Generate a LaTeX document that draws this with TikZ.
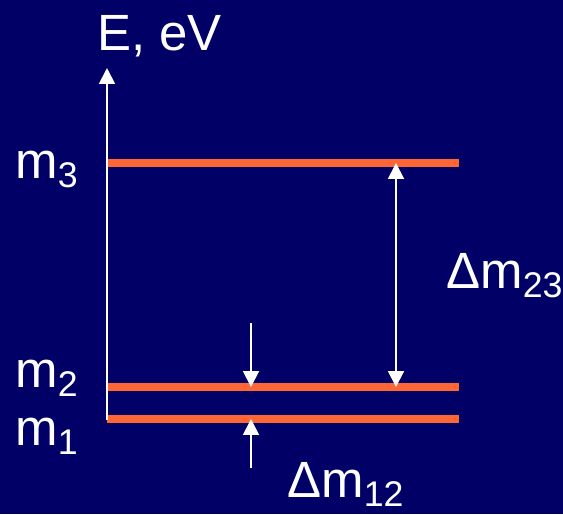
\documentclass[tikz,border=0pt]{standalone}
\usepackage{fontspec}
\setmainfont{Liberation Sans}
\usetikzlibrary{arrows.meta}
\definecolor{navy}{HTML}{000066}
\definecolor{level}{HTML}{FF6633}
\tikzset{
	lbl/.style={text=white,anchor=base west,inner sep=0pt,font=\fontsize{29}{30}\selectfont},
	levelline/.style={level,line width=4.4pt},
	gap/.style={white,line width=1.1pt,-{Triangle[width=9pt,length=9pt]}}
}
\begin{document}
\begin{tikzpicture}[x=0.02cm,y=-0.02cm]
	\fill[navy] (0,0) rectangle (563,514);
	\useasboundingbox (0,0) rectangle (563,514);
		\path
	(107,420) coordinate (O)
	(107,68) coordinate (top)
	(251,323) coordinate (d2)
	(251,468) coordinate (u1)
	;
	\foreach \n/\y in {3/163,2/387,1/419}{
		\coordinate (L\n) at (107,\y);
		\coordinate (R\n) at (459,\y);
		\draw[levelline] (L\n)--(R\n);
	}
	\draw[gap] (O)--(top);
	\draw[gap] (d2)--(251,387) coordinate (a2);
	\draw[gap] (u1)--(251,419) coordinate (a1);
	\draw[gap,{Triangle[width=9pt,length=9pt]}-{Triangle[width=9pt,length=9pt]}] (396,163) coordinate (b3)--(396,387) coordinate (b2);
	\node[lbl] (axis) at (97,50) {E, eV};
	\node[lbl] (m3) at (15,178) {m\textsubscript{3}};
	\node[lbl] (m2) at (15,387) {m\textsubscript{2}};
	\node[lbl] (m1) at (15,445) {m\textsubscript{1}};
	\node[lbl] (dm23) at (446,288) {Δm\textsubscript{23}};
	\node[lbl] (dm12) at (287,497) {Δm\textsubscript{12}};
\end{tikzpicture}
\end{document}
